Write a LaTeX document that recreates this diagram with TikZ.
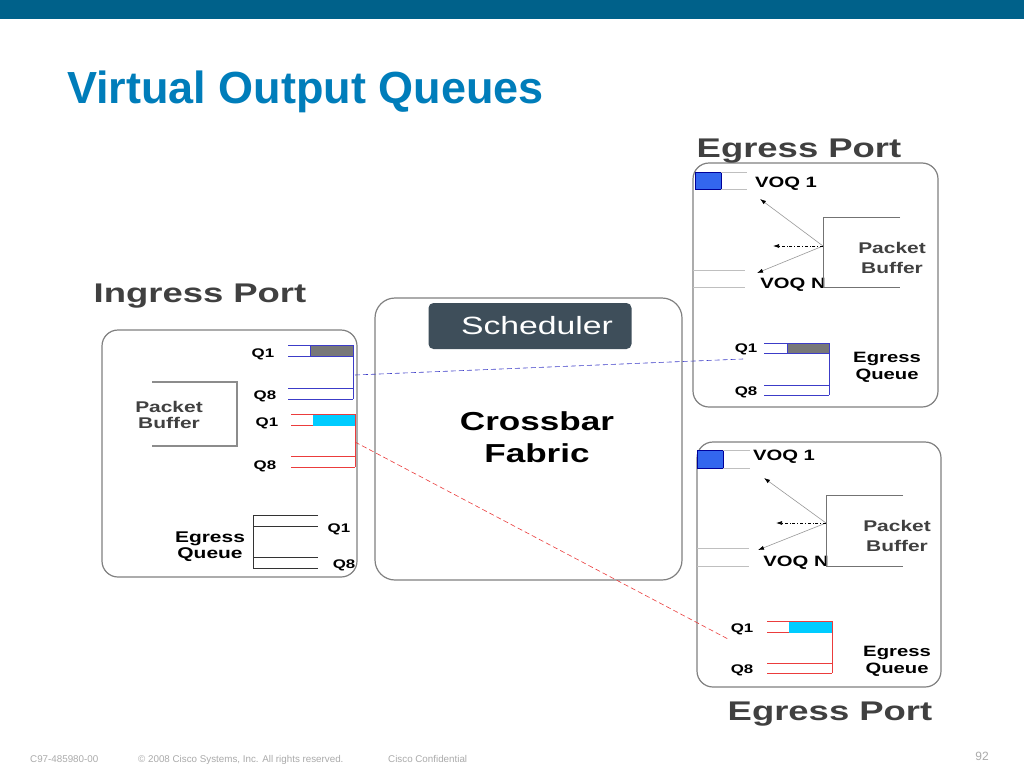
\documentclass[tikz,border=0pt]{standalone}
\usepackage{fontspec}
\setmainfont{Liberation Sans}
\newfontfamily\dgfont[FakeStretch=1.35]{Liberation Sans}
\usepackage{tikz}
\usetikzlibrary{arrows.meta, positioning}

\definecolor{barblue}{RGB}{0,97,138}
\definecolor{titleblue}{RGB}{0,125,186}
\definecolor{portgray}{RGB}{64,64,64}
\definecolor{boxgray}{RGB}{128,128,128}
\definecolor{schedfill}{RGB}{62,78,90}
\definecolor{voqblue}{RGB}{51,102,238}
\definecolor{qcyan}{RGB}{0,204,255}
\definecolor{qgray}{RGB}{120,120,120}
\definecolor{qblue}{RGB}{60,60,200}
\definecolor{qred}{RGB}{235,60,60}
\definecolor{footgray}{RGB}{170,170,170}

\begin{document}
\begin{tikzpicture}[
  x=1pt, y=-1pt,
  portbox/.style={draw=boxgray, line width=1.2pt, rounded corners=16pt},
  porttitle/.style={anchor=base, inner sep=0pt, text=portgray, font=\dgfont\bfseries\fontsize{27}{30}\selectfont},
  qlabel/.style={inner sep=0pt, font=\dgfont\bfseries\fontsize{12.5}{14}\selectfont},
  voqlabel/.style={inner sep=0pt, font=\dgfont\bfseries\fontsize{15}{17}\selectfont},
  buflabel/.style={inner sep=0pt, align=center, text=portgray, font=\dgfont\bfseries\fontsize{15.5}{20}\selectfont},
  eqlabel/.style={inner sep=0pt, align=center, font=\dgfont\bfseries\fontsize{15}{17}\selectfont},
  voqline/.style={draw=black!25, line width=0.6pt},
  qline/.style={draw=#1, line width=0.6pt},
  bracket/.style={draw=black!55, line width=0.8pt},
  pbarrow/.style={draw=black!40, line width=0.6pt, -{Latex[length=6pt,width=4pt,color=black]}},
  pbdash/.style={draw=black, line width=0.7pt, dash dot, -{Latex[length=6pt,width=4pt]}},
  link/.style={draw=#1, line width=0.6pt, dash pattern=on 5pt off 3pt},
  foot/.style={anchor=base west, inner sep=0pt, text=footgray, font=\fontsize{9.8}{11}\selectfont}
]
\useasboundingbox (0,0) rectangle (1024,768);
\fill[white] (0,0) rectangle (1024,768);

% Header
\fill[barblue] (0,0) rectangle (1024,19);
\node[anchor=base west, inner sep=0pt, text=titleblue, font=\bfseries\fontsize{45}{50}\selectfont] (title) at (67,103) {Virtual Output Queues};

% Ingress port
\draw[portbox] (102,330) rectangle (357,577);
\node[porttitle] (ingtitle) at (200,302) {Ingress Port};
\draw[draw=black!45, line width=1.5pt] (152,382) -- (237,382) -- (237,446) -- (152,446);
\node[buflabel, font=\dgfont\bfseries\fontsize{15.5}{16}\selectfont] (ingbuf) at (169,415) {Packet\\Buffer};

% ingress queues to top egress
\filldraw[fill=qgray, draw=qblue, line width=0.6pt] (310,345) rectangle (353,356);
\draw[qline=qblue] (288,345) -- (353,345) (288,356) -- (353,356) (288,388) -- (353,388) (288,399) -- (353,399) (353,345) -- (353,399);
\node[qlabel] (inq1a) at (263,354) {Q1};
\node[qlabel] (inq8a) at (265,396) {Q8};

% ingress queues to bottom egress
\filldraw[fill=qcyan, draw=qcyan] (313,414) rectangle (355,425);
\draw[qline=qred] (291,414) -- (355,414) (291,425) -- (313,425) (291,456) -- (355,456) (291,467) -- (355,467) (355,414) -- (355,467);
\node[qlabel] (inq1b) at (267,423) {Q1};
\node[qlabel] (inq8b) at (265,466) {Q8};

% ingress egress queue
\draw[qline=black!80] (318,515) -- (253,515) -- (253,568) -- (318,568) (253,526) -- (318,526) (253,557) -- (318,557);
\node[qlabel] (ineq1) at (339,529) {Q1};
\node[qlabel] (ineq8) at (344,565) {Q8};
\node[eqlabel, font=\dgfont\bfseries\fontsize{15.5}{16}\selectfont] (ineq) at (210,547) {Egress\\Queue};

% Crossbar
\draw[portbox, rounded corners=20pt] (375,298) rectangle (682,580);
\node[fill=schedfill, rounded corners=5pt, minimum width=203pt, minimum height=46pt, inner sep=0pt,
      text=white, font=\dgfont\fontsize{25}{28}\selectfont] (sched) at (530,326) {\hspace*{14pt}Scheduler};
\node[inner sep=0pt, align=center, font=\dgfont\bfseries\fontsize{26}{32}\selectfont] (fabric) at (537,437) {Crossbar\\Fabric};

% Egress port (top)
\draw[portbox] (693,163) rectangle (938,407);
\node[porttitle] (egtitle1) at (799,157) {Egress Port};
\filldraw[fill=voqblue, draw=blue!60!black, line width=0.6pt] (695,172) rectangle (721,189);
\draw[voqline] (721,172) -- (747,172) (721,189) -- (747,189);
\node[voqlabel] (voq1a) at (786,184) {VOQ 1};
\draw[voqline] (693,270) -- (745,270) (693,287) -- (745,287);
\node[voqlabel] (voqna) at (793,285) {VOQ N};
\draw[bracket] (900,217) -- (823,217) -- (823,287) -- (900,287);
\node[buflabel] (egbuf1) at (892,258) {Packet\\Buffer};
\coordinate (pb1) at (823,246);
\coordinate (voq1tip) at (760,199);
\coordinate (voqntip) at (757,273);
\coordinate (pbmid1) at (773,246);
\draw[pbarrow] (pb1) -- (voq1tip);
\draw[pbarrow] (pb1) -- (voqntip);
\draw[pbdash] (pb1) -- (pbmid1);
\filldraw[fill=qgray, draw=qblue, line width=0.6pt] (787,343) rectangle (829,353);
\draw[qline=qblue] (764,343) -- (829,343) (764,353) -- (829,353) (764,385) -- (829,385) (764,395) -- (829,395) (829,343) -- (829,395);
\node[qlabel] (egq1a) at (746,349) {Q1};
\node[qlabel] (egq8a) at (746,392) {Q8};
\node[eqlabel] (egeq1) at (887,367) {Egress\\Queue};

% Egress port (bottom)
\draw[portbox] (697,442) rectangle (941,687);
\node[porttitle] (egtitle2) at (830,720) {Egress Port};
\filldraw[fill=voqblue, draw=blue!60!black, line width=0.6pt] (697,450) rectangle (723,468);
\draw[voqline] (723,450) -- (750,450) (723,468) -- (750,468);
\node[voqlabel] (voq1b) at (784,457) {VOQ 1};
\draw[voqline] (697,548) -- (749,548) (697,566) -- (749,566);
\node[voqlabel] (voqnb) at (796,563) {VOQ N};
\draw[bracket] (903,495) -- (826,495) -- (826,566) -- (903,566);
\node[buflabel] (egbuf2) at (897,536) {Packet\\Buffer};
\coordinate (pb2) at (826,523);
\coordinate (voq1tipb) at (764,478);
\coordinate (voqntipb) at (758,550);
\coordinate (pbmid2) at (776,523);
\draw[pbarrow] (pb2) -- (voq1tipb);
\draw[pbarrow] (pb2) -- (voqntipb);
\draw[pbdash] (pb2) -- (pbmid2);
\filldraw[fill=qcyan, draw=qcyan] (789,621) rectangle (832,632);
\draw[qline=qred] (767,621) -- (832,621) (767,632) -- (789,632) (767,663) -- (832,663) (767,673) -- (832,673) (832,621) -- (832,673);
\node[qlabel] (egq1b) at (742,629) {Q1};
\node[qlabel] (egq8b) at (742,670) {Q8};
\node[eqlabel] (egeq2) at (897,661) {Egress\\Queue};

% Links through the fabric
\coordinate (lkin1) at (355,375);
\coordinate (lkout1) at (743,359);
\coordinate (lkin2) at (355,442);
\coordinate (lkout2) at (728,639);
\draw[link=qblue] (lkin1) -- (lkout1);
\draw[link=qred] (lkin2) -- (lkout2);

% Footer
\node[foot] (docid) at (30,762) {C97-485980-00};
\node[foot] (copy) at (138,762) {\textcopyright{} 2008 Cisco Systems, Inc. All rights reserved.};
\node[foot] (conf) at (388,762) {Cisco Confidential};
\node[foot, anchor=base east, font=\fontsize{12}{13}\selectfont] (page) at (989,760) {92};

\end{tikzpicture}
\end{document}
